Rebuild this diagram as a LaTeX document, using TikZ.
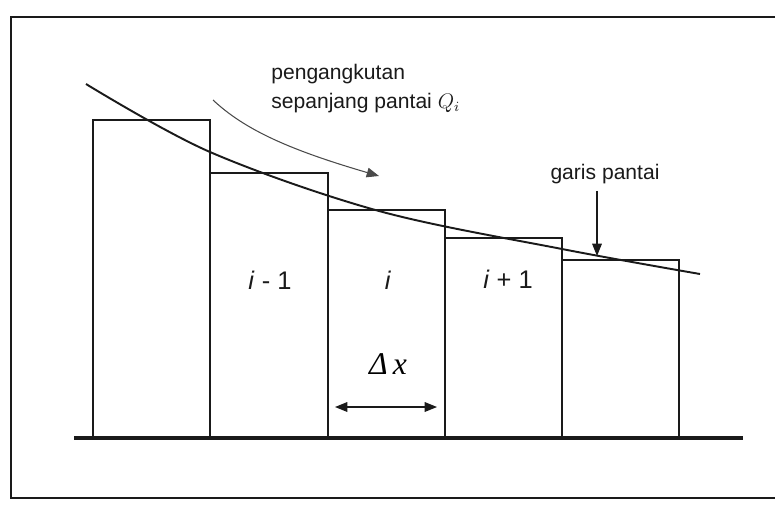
\documentclass[tikz,border=0pt]{standalone}
\usepackage{fontspec}
\setmainfont{Liberation Sans}
\newfontfamily\timesfont{Liberation Serif}
\usetikzlibrary{arrows.meta,positioning}
\definecolor{Ink}{HTML}{1A1A1A}
\definecolor{Pencil}{HTML}{4A4A4A}

\tikzset{
  bar/.style={draw=Ink,line width=1pt},
  celllbl/.style={font=\fontsize{14.5}{16}\selectfont,inner sep=0pt,text=Ink},
  note/.style={font=\fontsize{12}{14}\selectfont,inner sep=0pt,text=Ink},
  tip/.style={-{Triangle[length=7pt,width=5.5pt]}}
}

\begin{document}
\begin{tikzpicture}[x=0.02cm,y=-0.02cm,line join=miter]
    \useasboundingbox (0,0) rectangle (776,504);
    % frame of the scan
    \draw[Ink,line width=1.2pt] (775,17) -- (11,17) -- (11,498) -- (775,498);
    % cells along the coast
    \foreach \xl/\xr/\yt in {93/210/120,210/328/173,328/445/210,445/562/238,562/679/260}{
      \draw[bar] (\xl,438) rectangle (\xr,\yt);
    }
    % ground line
    \draw[Ink,line width=1.8pt] (74,438) -- (743,438);
    % shoreline curve
    \draw[Ink,line width=1.1pt] plot[smooth,tension=0.55] coordinates
      {(86,84) (210,152) (379,211) (562,249) (700,274)};
    % labels
    \node[note,anchor=base west] (transp1) at (271,79) {pengangkutan};
    \node[note,anchor=base west] (transp2) at (271,108) {sepanjang pantai $Q_i$};
    \node[note,anchor=base] (shore) at (605,179) {garis pantai};
    \node[celllbl] (cellA) at (270,280) {\textit{i} - 1};
    \node[celllbl] (cellB) at (388,280) {\textit{i}};
    \node[celllbl] (cellC) at (508,279) {\textit{i} + 1};
    \node[inner sep=0pt,font=\timesfont\itshape\fontsize{18}{20}\selectfont] (dx) at (388,364) {Δ\,x};
    % arrows
    \coordinate (qs) at (213,100);
    \coordinate (qe) at (379,176);
    \draw[tip,Pencil,line width=0.6pt] (qs) .. controls (245,130) and (290,150) .. (qe);
    \coordinate (shoretip) at (597,256);
    \draw[tip,Ink,line width=0.6pt] ([yshift=-4pt]shore.south -| shoretip) -- (shoretip);
    \coordinate (dxl) at (335,407);
    \coordinate (dxr) at (437,407);
    \draw[{Triangle[length=7pt,width=5.5pt]}-{Triangle[length=7pt,width=5.5pt]},Ink,line width=0.7pt] (dxl) -- (dxr);
\end{tikzpicture}
\end{document}
